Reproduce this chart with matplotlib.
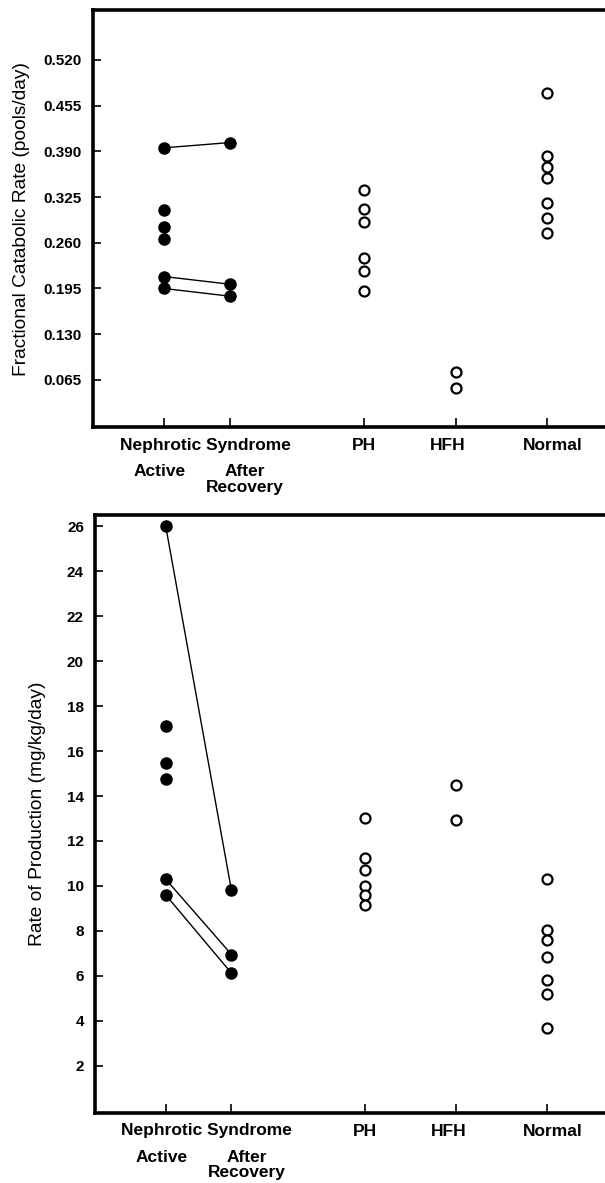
import matplotlib
matplotlib.use("Agg")
import matplotlib.pyplot as plt

plt.rcParams['font.family'] = ['Liberation Sans', 'DejaVu Sans']

# ---------------- data ----------------
categories = ["Active", "After Recovery", "PH", "HFH", "Normal"]

# Fractional catabolic rate (pools/day)
fcr_active = [0.395, 0.307, 0.282, 0.265, 0.212, 0.195]
fcr_after = [0.4025, 0.201, 0.184]
fcr_pairs_active = [0.395, 0.212, 0.195]      # paired patients (active -> after)
fcr_pairs_after = [0.4025, 0.201, 0.184]
fcr_ph = [0.3345, 0.308, 0.289, 0.239, 0.220, 0.192]
fcr_hfh = [0.076, 0.054]
fcr_normal = [0.473, 0.383, 0.368, 0.352, 0.317, 0.295, 0.274]
fcr_ticks = [0.065, 0.130, 0.195, 0.260, 0.325, 0.390, 0.455, 0.520]

# Rate of production (mg/kg/day)
rp_active = [26.0, 17.1, 15.45, 14.75, 10.3, 9.6]
rp_after = [9.8, 6.95, 6.12]
rp_pairs_active = [26.0, 10.3, 9.6]
rp_pairs_after = [9.8, 6.95, 6.12]
rp_ph = [13.0, 11.25, 10.7, 10.0, 9.58, 9.14]
rp_hfh = [14.5, 12.95]
rp_normal = [10.33, 8.04, 7.6, 6.83, 5.8, 5.2, 3.7]
rp_ticks = [2, 4, 6, 8, 10, 12, 14, 16, 18, 20, 22, 24, 26]

# ---------------- layout ----------------
xpos = [1.0, 2.0, 4.03, 5.42, 6.8]
W, H = 605, 1183
fig = plt.figure(figsize=(W / 100, H / 100), dpi=100)


def make_axes(left_px, top_px, bottom_px):
    ax = fig.add_axes([left_px / W, 1 - bottom_px / H,
                       1 - left_px / W, (bottom_px - top_px) / H])
    return ax


def style(ax, ylim, yticks, ylabel, fmt, labelpad):
    ax.set_xlim(1 - (164 - 93) / 66.0, 1 + (605 - 164) / 66.0)
    ax.set_ylim(*ylim)
    for s in ["left", "bottom", "top"]:
        ax.spines[s].set_linewidth(2.6)
    ax.spines["right"].set_visible(False)
    ax.set_yticks(yticks)
    ax.set_yticklabels([fmt(t) for t in yticks], fontsize=11, fontweight="bold")
    ax.set_xticks(xpos)
    ax.set_xticklabels([])
    ax.tick_params(axis="y", direction="in", length=6, width=1.2, pad=8)
    ax.tick_params(axis="x", direction="in", length=6.5, width=1.2)
    ax.set_ylabel(ylabel, fontsize=13.8, labelpad=labelpad)

    def lab(txt, x, dx_px, dy_px):
        ax.annotate(txt, xy=(x, 0), xycoords=("data", "axes fraction"),
                    xytext=(dx_px * 0.72, -dy_px * 0.72), textcoords="offset points",
                    ha="center", va="center", fontsize=12.5, fontweight="bold",
                    linespacing=0.95)

    lab("Nephrotic Syndrome", (xpos[0] + xpos[1]) / 2, 8, 18)
    lab("Active", xpos[0], -4, 44)
    lab("After", xpos[1], 15, 44)
    lab("Recovery", xpos[1], 15, 60)
    lab("PH", xpos[2], 0, 18)
    lab("HFH", xpos[3], -8, 18)
    lab("Normal", xpos[4], 6, 18)


def draw(ax, active, after, pa, pb, ph, hfh, normal):
    for a, b in zip(pa, pb):
        ax.plot([xpos[0], xpos[1]], [a, b], color="black", lw=1.0, zorder=2)
    filled = dict(marker="o", ms=8, color="black", ls="none", zorder=3)
    ax.plot([xpos[0]] * len(active), active, **filled)
    ax.plot([xpos[1]] * len(after), after, **filled)
    hollow = dict(marker="o", ms=7.2, mfc="white", mec="black", mew=1.6,
                  ls="none", zorder=3)
    ax.plot([xpos[2]] * len(ph), ph, **hollow)
    ax.plot([xpos[3]] * len(hfh), hfh, **hollow)
    ax.plot([xpos[4]] * len(normal), normal, **hollow)


ax1 = make_axes(93, 10, 427)
style(ax1, (-0.002, 0.591), fcr_ticks, "Fractional Catabolic Rate (pools/day)",
      lambda t: f"{t:.3f}", 10)
draw(ax1, fcr_active, fcr_after, fcr_pairs_active, fcr_pairs_after,
     fcr_ph, fcr_hfh, fcr_normal)

ax2 = make_axes(95, 515, 1113)
style(ax2, (-0.1, 26.5), rp_ticks, "Rate of Production (mg/kg/day)",
      lambda t: f"{t:d}", 15)
draw(ax2, rp_active, rp_after, rp_pairs_active, rp_pairs_after,
     rp_ph, rp_hfh, rp_normal)

fig.savefig("out.png", dpi=100)
